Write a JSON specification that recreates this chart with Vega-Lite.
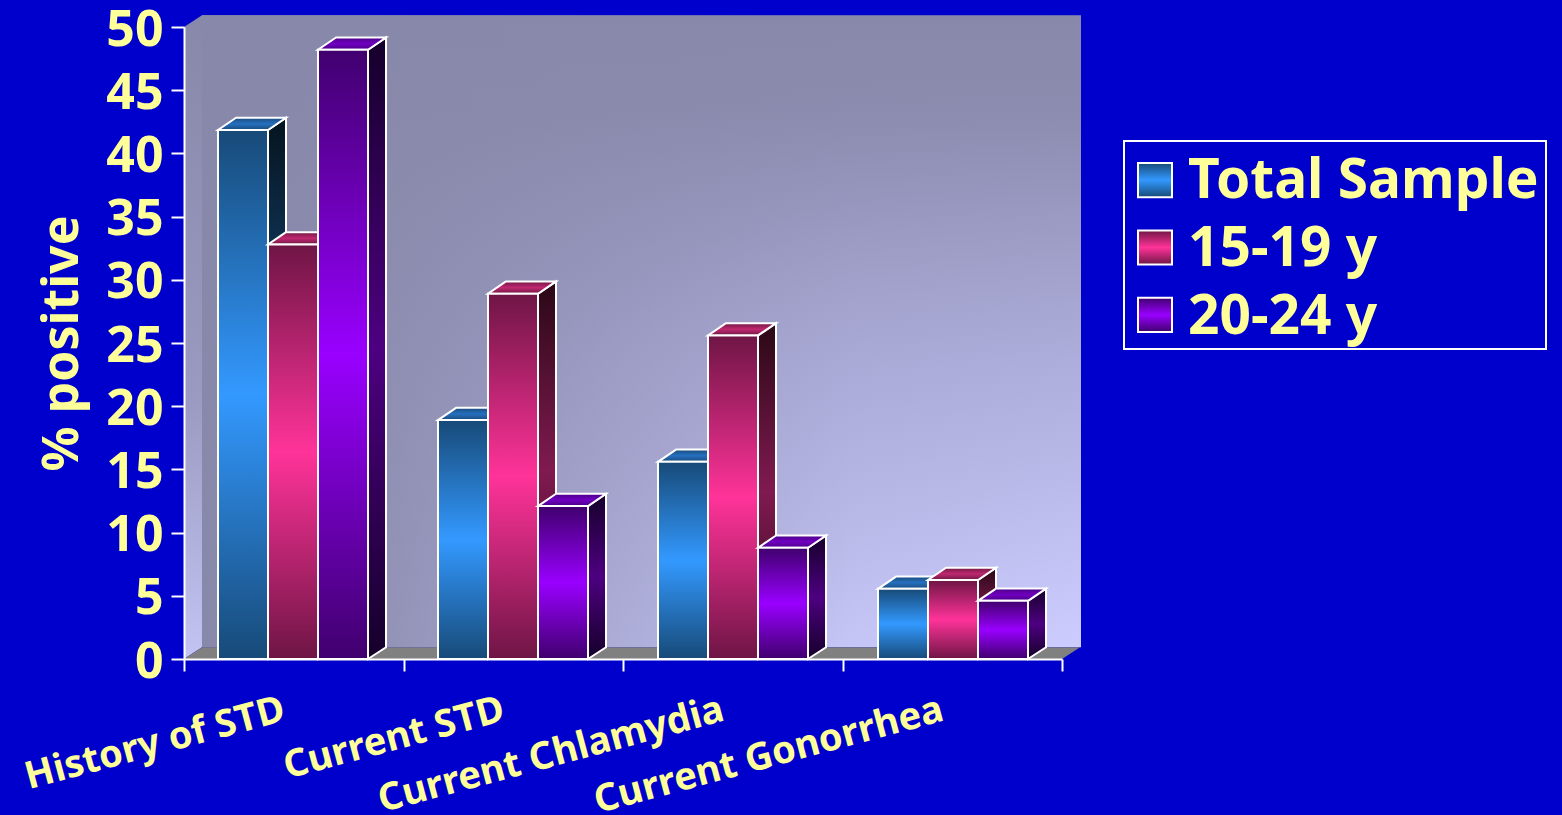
{
"$schema":"https://vega.github.io/schema/vega-lite/v6.json",
"autosize":"none","width":878,"height":632,
"padding":{"left":184,"top":27,"right":500,"bottom":156},
"background":"#0000cc",
"config":{"view":{"stroke":null},"font":"Noto Sans"},
"data":{"values":[
{"category":"History of STD","series":"Total Sample","value":41.85},
{"category":"History of STD","series":"15-19 y","value":32.8},
{"category":"History of STD","series":"20-24 y","value":48.2},
{"category":"Current STD","series":"Total Sample","value":18.9},
{"category":"Current STD","series":"15-19 y","value":28.9},
{"category":"Current STD","series":"20-24 y","value":12.1},
{"category":"Current Chlamydia","series":"Total Sample","value":15.6},
{"category":"Current Chlamydia","series":"15-19 y","value":25.6},
{"category":"Current Chlamydia","series":"20-24 y","value":8.8},
{"category":"Current Gonorrhea","series":"Total Sample","value":5.55},
{"category":"Current Gonorrhea","series":"15-19 y","value":6.25},
{"category":"Current Gonorrhea","series":"20-24 y","value":4.6}
]},
"transform":[
{"calculate":"indexof(['History of STD','Current STD','Current Chlamydia','Current Gonorrhea'],datum.category)","as":"c"},
{"calculate":"indexof(['Total Sample','15-19 y','20-24 y'],datum.series)","as":"s"},
{"calculate":"34+220*datum.c+50*datum.s","as":"x0"},
{"calculate":"datum.x0+50","as":"x1"},
{"calculate":"[0,1]","as":"step"},
{"flatten":["step"]},
{"calculate":"datum.x1+18*datum.step","as":"sx"},
{"calculate":"datum.value+0.97*datum.step","as":"sy"},
{"calculate":"0.93*datum.step","as":"sy2"},
{"calculate":"datum.x0+18*datum.step","as":"tx"},
{"calculate":"datum.x1+18*datum.step","as":"tx2"},
{"calculate":"39.24-5.33*datum.s","as":"ly"},
{"calculate":"datum.ly-2.7","as":"ly2"}
],
"resolve":{"scale":{"x":"independent"},"axis":{"x":"independent"}},
"layer":[
{"data":{"values":[{"category":"History of STD"},{"category":"Current STD"},{"category":"Current Chlamydia"},{"category":"Current Gonorrhea"}]},
 "transform":[],
 "mark":{"type":"rect","opacity":0},
 "encoding":{
  "x":{"field":"category","type":"nominal","sort":null,"scale":{"paddingInner":0,"paddingOuter":0},
   "axis":{"title":null,"zindex":1,"tickBand":"extent","domainColor":"white","domainWidth":2,"tickColor":"white","tickWidth":2,"tickSize":12,"labelColor":"#ffff99","labelFont":"Noto Sans","labelFontWeight":"bold","labelFontSize":38,"labelAngle":-15,"labelAlign":"right","labelBaseline":"middle","labelPadding":38,"labelOffset":-10,"labelOverlap":false,"labelLimit":0,"labelBound":false,"labelFlush":false}},
  "y":{"datum":0,"type":"quantitative","scale":{"domain":[0,50],"nice":false},
   "axis":{"title":"% positive","zindex":1,"values":[0,5,10,15,20,25,30,35,40,45,50],"domainColor":"white","domainWidth":2,"tickColor":"white","tickWidth":2,"tickSize":13,"labelColor":"#ffff99","labelFont":"Noto Sans","labelFontWeight":"bold","labelFontSize":50,"labelPadding":8,"labelOffset":3,"labelOverlap":false,"labelBound":false,"grid":false,"titleColor":"#ffff99","titleFont":"Noto Sans","titleFontWeight":"bold","titleFontSize":50,"titlePadding":18}}
 }},
{"layer":[
{"data":{"values":[{"wall":1}]},"transform":[],
 "mark":{"type":"rect","fill":{"gradient":"linear","x1":0,"y1":0,"x2":0,"y2":1,"stops":[{"offset":0,"color":"#8888aa"},{"offset":0.15,"color":"#8c8cb0"},{"offset":0.55,"color":"#aeaedc"},{"offset":1,"color":"#ccccff"}]}},
 "encoding":{"x":{"datum":18,"type":"quantitative","scale":{"domain":[0,878],"nice":false,"zero":false},"axis":null},"x2":{"datum":897},"y":{"datum":50.93,"type":"quantitative"},"y2":{"datum":0.93}}},
{"data":{"values":[{"wall":1}]},"transform":[],
 "mark":{"type":"rect","fill":{"gradient":"linear","x1":0,"y1":0,"x2":1,"y2":0,"stops":[{"offset":0,"color":"rgba(136,136,170,1)"},{"offset":0.2,"color":"rgba(136,136,170,0.85)"},{"offset":0.48,"color":"rgba(136,136,170,0.45)"},{"offset":0.74,"color":"rgba(136,136,170,0.1)"},{"offset":1,"color":"rgba(136,136,170,0)"}]}},
 "encoding":{"x":{"datum":18,"type":"quantitative","axis":null},"x2":{"datum":897},"y":{"datum":50.93,"type":"quantitative"},"y2":{"datum":0.93}}},
{"data":{"values":[{"step":0},{"step":1}]},"transform":[
  {"calculate":"18*datum.step","as":"wx"},{"calculate":"50+0.93*datum.step","as":"wy"},{"calculate":"0.93*datum.step","as":"wy2"}],
 "mark":{"type":"area","fill":{"gradient":"linear","x1":0,"y1":0,"x2":0,"y2":1,"stops":[{"offset":0,"color":"#8888aa"},{"offset":0.6,"color":"#9a9ac2"},{"offset":1,"color":"#c4c4f4"}]}},
 "encoding":{"x":{"field":"wx","type":"quantitative","axis":null},"y":{"field":"wy","type":"quantitative"},"y2":{"field":"wy2"}}},
{"data":{"values":[{"step":0},{"step":1}]},"transform":[
  {"calculate":"18*datum.step","as":"fx"},{"calculate":"878+18*datum.step","as":"fx2"},{"calculate":"0.93*datum.step","as":"fy"}],
 "mark":{"type":"area","orient":"horizontal","fill":"#808080"},
 "encoding":{"y":{"field":"fy","type":"quantitative"},"x":{"field":"fx","type":"quantitative","axis":null},"x2":{"field":"fx2"}}},

{"data":{"values":[{"box":1}]},"transform":[],
 "mark":{"type":"rect","fill":"#0000cc","stroke":"white","strokeWidth":2},
 "encoding":{"x":{"datum":940,"type":"quantitative","axis":null},"x2":{"datum":1362},"y":{"datum":40.98,"type":"quantitative"},"y2":{"datum":24.53}}},

{"transform":[{"filter":"datum.step==0"}],
 "mark":{"type":"rect","opacity":0},
 "encoding":{"x":{"field":"x0","type":"quantitative","axis":null},"x2":{"field":"x1"},"y":{"field":"value","type":"quantitative"},"y2":{"datum":0},
  "color":{"field":"series","type":"nominal","scale":{"domain":["Total Sample","15-19 y","20-24 y"],"range":["#3399ff","#ff3399","#9900ff"]},
   "legend":{"title":null,"orient":"none","legendX":940,"legendY":126,"padding":0,"symbolType":"square","symbolSize":1156,"symbolStrokeColor":"transparent","symbolOpacity":0,"labelColor":"#ffff99","labelFont":"Noto Sans","labelFontWeight":"bold","labelFontSize":55,"labelLimit":0,"rowPadding":12,"labelOffset":9}}}},

{"transform":[{"filter":"datum.s==0"}],
 "mark":{"type":"area","stroke":"white","strokeWidth":2,"fill":{"gradient":"linear","x1":0,"y1":0,"x2":0,"y2":1,"stops":[{"offset":0,"color":"#04141f"},{"offset":0.5,"color":"#1a4d80"},{"offset":1,"color":"#04141f"}]}},
 "encoding":{"detail":{"field":"category"},"x":{"field":"sx","type":"quantitative","axis":null},"y":{"field":"sy","type":"quantitative"},"y2":{"field":"sy2"}}},
{"transform":[{"filter":"datum.s==0"}],
 "mark":{"type":"area","orient":"horizontal","stroke":"white","strokeWidth":2,"fill":{"gradient":"linear","x1":0,"y1":0,"x2":0,"y2":1,"stops":[{"offset":0,"color":"#1a4a7a"},{"offset":0.5,"color":"#2570c0"},{"offset":1,"color":"#1a4a7a"}]}},
 "encoding":{"detail":{"field":"category"},"y":{"field":"sy","type":"quantitative"},"x":{"field":"tx","type":"quantitative","axis":null},"x2":{"field":"tx2"}}},
{"transform":[{"filter":"datum.s==0 && datum.step==0"}],
 "mark":{"type":"rect","stroke":"white","strokeWidth":2,"fill":{"gradient":"linear","x1":0,"y1":0,"x2":0,"y2":1,"stops":[{"offset":0,"color":"#174a78"},{"offset":0.5,"color":"#3399ff"},{"offset":1,"color":"#174a78"}]}},
 "encoding":{"x":{"field":"x0","type":"quantitative","axis":null},"x2":{"field":"x1"},"y":{"field":"value","type":"quantitative"},"y2":{"datum":0}}},

{"transform":[{"filter":"datum.s==1"}],
 "mark":{"type":"area","stroke":"white","strokeWidth":2,"fill":{"gradient":"linear","x1":0,"y1":0,"x2":0,"y2":1,"stops":[{"offset":0,"color":"#2a0815"},{"offset":0.5,"color":"#801a50"},{"offset":1,"color":"#2a0815"}]}},
 "encoding":{"detail":{"field":"category"},"x":{"field":"sx","type":"quantitative","axis":null},"y":{"field":"sy","type":"quantitative"},"y2":{"field":"sy2"}}},
{"transform":[{"filter":"datum.s==1"}],
 "mark":{"type":"area","orient":"horizontal","stroke":"white","strokeWidth":2,"fill":{"gradient":"linear","x1":0,"y1":0,"x2":0,"y2":1,"stops":[{"offset":0,"color":"#701845"},{"offset":0.5,"color":"#c02870"},{"offset":1,"color":"#701845"}]}},
 "encoding":{"detail":{"field":"category"},"y":{"field":"sy","type":"quantitative"},"x":{"field":"tx","type":"quantitative","axis":null},"x2":{"field":"tx2"}}},
{"transform":[{"filter":"datum.s==1 && datum.step==0"}],
 "mark":{"type":"rect","stroke":"white","strokeWidth":2,"fill":{"gradient":"linear","x1":0,"y1":0,"x2":0,"y2":1,"stops":[{"offset":0,"color":"#6e1545"},{"offset":0.5,"color":"#ff3399"},{"offset":1,"color":"#6e1545"}]}},
 "encoding":{"x":{"field":"x0","type":"quantitative","axis":null},"x2":{"field":"x1"},"y":{"field":"value","type":"quantitative"},"y2":{"datum":0}}},

{"transform":[{"filter":"datum.s==2"}],
 "mark":{"type":"area","stroke":"white","strokeWidth":2,"fill":{"gradient":"linear","x1":0,"y1":0,"x2":0,"y2":1,"stops":[{"offset":0,"color":"#15002a"},{"offset":0.5,"color":"#4d0080"},{"offset":1,"color":"#15002a"}]}},
 "encoding":{"detail":{"field":"category"},"x":{"field":"sx","type":"quantitative","axis":null},"y":{"field":"sy","type":"quantitative"},"y2":{"field":"sy2"}}},
{"transform":[{"filter":"datum.s==2"}],
 "mark":{"type":"area","orient":"horizontal","stroke":"white","strokeWidth":2,"fill":{"gradient":"linear","x1":0,"y1":0,"x2":0,"y2":1,"stops":[{"offset":0,"color":"#4a0088"},{"offset":0.5,"color":"#7000c0"},{"offset":1,"color":"#4a0088"}]}},
 "encoding":{"detail":{"field":"category"},"y":{"field":"sy","type":"quantitative"},"x":{"field":"tx","type":"quantitative","axis":null},"x2":{"field":"tx2"}}},
{"transform":[{"filter":"datum.s==2 && datum.step==0"}],
 "mark":{"type":"rect","stroke":"white","strokeWidth":2,"fill":{"gradient":"linear","x1":0,"y1":0,"x2":0,"y2":1,"stops":[{"offset":0,"color":"#40006e"},{"offset":0.5,"color":"#9900ff"},{"offset":1,"color":"#40006e"}]}},
 "encoding":{"x":{"field":"x0","type":"quantitative","axis":null},"x2":{"field":"x1"},"y":{"field":"value","type":"quantitative"},"y2":{"datum":0}}},

{"transform":[{"filter":"datum.step==0 && datum.c==0 && datum.s==0"},{"calculate":"954","as":"lx"},{"calculate":"988","as":"lx2"}],
 "mark":{"type":"rect","stroke":"white","strokeWidth":2,"fill":{"gradient":"linear","x1":0,"y1":0,"x2":0,"y2":1,"stops":[{"offset":0,"color":"#174a78"},{"offset":0.5,"color":"#3399ff"},{"offset":1,"color":"#174a78"}]}},
 "encoding":{"x":{"field":"lx","type":"quantitative","axis":null},"x2":{"field":"lx2"},"y":{"field":"ly","type":"quantitative"},"y2":{"field":"ly2"}}},
{"transform":[{"filter":"datum.step==0 && datum.c==0 && datum.s==1"},{"calculate":"954","as":"lx"},{"calculate":"988","as":"lx2"}],
 "mark":{"type":"rect","stroke":"white","strokeWidth":2,"fill":{"gradient":"linear","x1":0,"y1":0,"x2":0,"y2":1,"stops":[{"offset":0,"color":"#6e1545"},{"offset":0.5,"color":"#ff3399"},{"offset":1,"color":"#6e1545"}]}},
 "encoding":{"x":{"field":"lx","type":"quantitative","axis":null},"x2":{"field":"lx2"},"y":{"field":"ly","type":"quantitative"},"y2":{"field":"ly2"}}},
{"transform":[{"filter":"datum.step==0 && datum.c==0 && datum.s==2"},{"calculate":"954","as":"lx"},{"calculate":"988","as":"lx2"}],
 "mark":{"type":"rect","stroke":"white","strokeWidth":2,"fill":{"gradient":"linear","x1":0,"y1":0,"x2":0,"y2":1,"stops":[{"offset":0,"color":"#40006e"},{"offset":0.5,"color":"#9900ff"},{"offset":1,"color":"#40006e"}]}},
 "encoding":{"x":{"field":"lx","type":"quantitative","axis":null},"x2":{"field":"lx2"},"y":{"field":"ly","type":"quantitative"},"y2":{"field":"ly2"}}}
]}
]}
